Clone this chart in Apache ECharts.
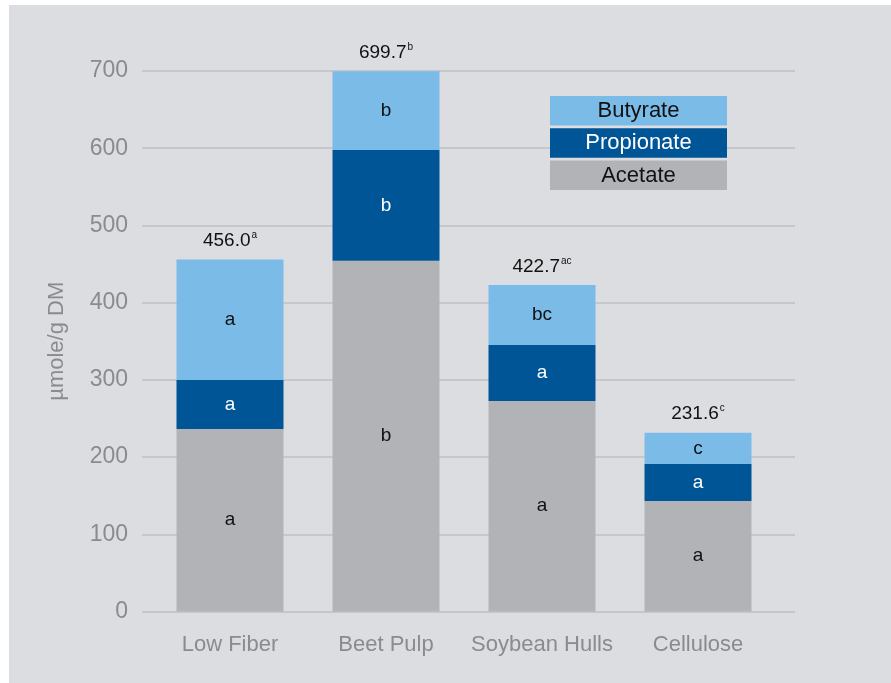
<!DOCTYPE html>
<html>
<head>
<meta charset="utf-8">
<script src="https://cdn.jsdelivr.net/npm/echarts@6/dist/echarts.min.js"></script>
<style>
  html, body { margin: 0; padding: 0; background: #ffffff; }
  #chart { width: 891px; height: 683px; }
</style>
</head>
<body>
<div id="chart"></div>
<script>
// Volatile fatty acid production by fibre source (µmole/g DM)
const categories = ['Low Fiber', 'Beet Pulp', 'Soybean Hulls', 'Cellulose'];
const seriesNames = ['Acetate', 'Propionate', 'Butyrate'];
const acetate    = [236.4, 454.4, 272.6, 143.1];
const propionate = [63.4, 143.3, 72.6, 47.9];
const butyrate   = [156.2, 102.0, 77.5, 40.6];
const totals     = ['456.0', '699.7', '422.7', '231.6'];
const totalMarks = ['a', 'b', 'ac', 'c'];
const acetateMarks    = ['a', 'b', 'a', 'a'];
const propionateMarks = ['a', 'b', 'a', 'a'];
const butyrateMarks   = ['a', 'b', 'bc', 'c'];
const yTicks = [0, 100, 200, 300, 400, 500, 600, 700];

const colors = { Acetate: '#b1b3b6', Propionate: '#005596', Butyrate: '#7bbbe7' };
const FONT = '"Liberation Sans", Arial, Helvetica, sans-serif';
const GRAY = '#898b8e';

const chart = echarts.init(document.getElementById('chart'), null, { renderer: 'canvas' });

function segLabel(marks, color) {
  return {
    show: true,
    position: 'inside',
    color: color,
    fontFamily: FONT,
    fontSize: 19,
    formatter: p => marks[p.dataIndex]
  };
}

// legend rows drawn as filled boxes with centred names, stacked top to bottom
const legendOrder = seriesNames.slice().reverse();
const legendGraphics = legendOrder.map((name, i) => ({
  type: 'group',
  left: 550,
  top: 96 + i * 32.3,
  z: 100,
  children: [
    { type: 'rect', z: 100, shape: { x: 0, y: 0, width: 177, height: 29.5 }, style: { fill: colors[name] } },
    { type: 'text', z: 101, x: 88.5, y: 15, style: {
        text: name, fill: name === 'Propionate' ? '#ffffff' : '#111111',
        font: '22px ' + FONT, textAlign: 'center', textVerticalAlign: 'middle' } }
  ]
}));

const option = {
  animation: false,
  backgroundColor: '#ffffff',
  graphic: [
    { type: 'rect', left: 9, top: 5, z: -10, silent: true,
      shape: { x: 0, y: 0, width: 882, height: 678 }, style: { fill: '#dcdde0' } },
    ...legendGraphics
  ],
  grid: [
    { left: 142, right: 96, top: 71, bottom: 71.5 },
    { left: 152, width: 624, top: 71, bottom: 71.5 }
  ],
  xAxis: [
    { gridIndex: 0, type: 'category', data: categories, show: false },
    {
      gridIndex: 1, type: 'category', data: categories,
      axisLine: { show: false }, axisTick: { show: false },
      axisLabel: { color: GRAY, fontFamily: FONT, fontSize: 22, margin: 22, interval: 0 }
    }
  ],
  yAxis: [
    {
      gridIndex: 0, type: 'value', min: yTicks[0], max: yTicks[yTicks.length - 1], interval: 100,
      name: 'µmole/g DM', nameLocation: 'middle', nameGap: 74, nameRotate: 90,
      nameTextStyle: { color: GRAY, fontFamily: FONT, fontSize: 22 },
      axisLine: { show: false }, axisTick: { show: false },
      axisLabel: { color: GRAY, fontFamily: FONT, fontSize: 23, margin: 14 },
      splitLine: { lineStyle: { color: '#bec0c3', width: 1.5 } }
    },
    {
      gridIndex: 1, type: 'value', min: yTicks[0], max: yTicks[yTicks.length - 1], interval: 100,
      show: false, splitLine: { show: false }
    }
  ],
  series: [
    {
      name: 'Acetate', type: 'bar', stack: 'vfa', xAxisIndex: 1, yAxisIndex: 1,
      data: acetate, barWidth: 107, itemStyle: { color: colors.Acetate },
      label: segLabel(acetateMarks, '#111111')
    },
    {
      name: 'Propionate', type: 'bar', stack: 'vfa', xAxisIndex: 1, yAxisIndex: 1,
      data: propionate, barWidth: 107, itemStyle: { color: colors.Propionate },
      label: segLabel(propionateMarks, '#ffffff')
    },
    {
      name: 'Butyrate', type: 'bar', stack: 'vfa', xAxisIndex: 1, yAxisIndex: 1,
      data: butyrate, barWidth: 107, itemStyle: { color: colors.Butyrate },
      label: segLabel(butyrateMarks, '#111111')
    },
    {
      // totals written above each stack
      name: 'Total', type: 'bar', stack: 'vfa', xAxisIndex: 1, yAxisIndex: 1,
      data: categories.map(() => 0), barWidth: 107, itemStyle: { color: 'transparent' },
      label: {
        show: true, position: 'top', distance: 8,
        formatter: p => '{v|' + totals[p.dataIndex] + '}{s|' + totalMarks[p.dataIndex] + '}',
        rich: {
          v: { fontFamily: FONT, fontSize: 19, color: '#111111', lineHeight: 21 },
          s: { fontFamily: FONT, fontSize: 10, color: '#111111', verticalAlign: 'top', lineHeight: 21, padding: [0, 0, 8, 1] }
        }
      }
    }
  ]
};

chart.setOption(option);
</script>
</body>
</html>
